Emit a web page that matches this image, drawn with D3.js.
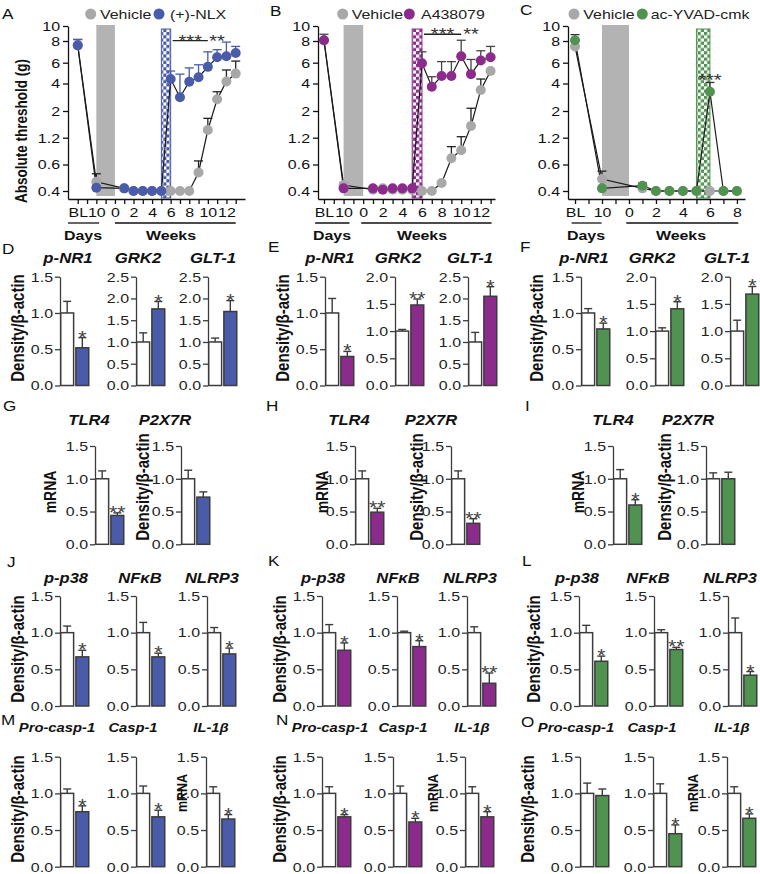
<!DOCTYPE html>
<html><head><meta charset="utf-8">
<script src="https://cdn.jsdelivr.net/npm/d3@7"></script>
<style>
body{margin:0;background:#fff}
svg text{font-family:"Liberation Sans",Arial,Helvetica,sans-serif}
</style></head><body>
<svg id="fig" width="760" height="874"></svg>
<script>
// ================= DATA =================
// Line charts (A, B, C): time points
const timesAB = ["BL","D10","W1","W2","W3","W4","W5","W6","W7","W8","W9","W10","W11","W12","W13"];
const timesC  = ["BL","D10","W1","W2","W3","W4","W5","W6","W7","W8"];
const yTicksLine = [0.4,0.6,1.2,2,4,6,8,10];
const xTickLabelsAB = ["BL","","10","","0","","2","","4","","6","","8","","10","","12",""];
const xTickLabelsC  = ["BL","","10","","0","","2","","4","","6","","8"];

const A_vehicle   = [7.6,0.47,0.42,0.40,0.40,0.40,0.40,0.40,0.40,0.40,0.54,1.43,2.85,4.20,4.95];
const A_vehicleUp = [8.2,0.53,0.42,0.40,0.40,0.40,0.40,0.40,0.40,0.40,0.68,1.78,3.40,5.30,6.15];
const A_drug      = [7.6,0.425,0.42,0.40,0.40,0.40,0.40,4.43,3.00,4.17,4.60,5.60,6.50,6.60,6.90];
const A_drugUp    = [8.2,0.425,0.42,0.40,0.40,0.40,0.40,5.20,4.90,5.50,5.80,7.00,7.20,7.90,7.50];

const B_vehicle   = [8.1,0.445,0.41,0.42,0.41,0.41,0.41,0.40,0.40,0.46,0.74,0.92,1.55,3.53,5.20];
const B_vehicleUp = [8.1,0.46,0.41,0.42,0.41,0.41,0.41,0.40,0.40,0.47,1.00,1.23,2.20,4.43,5.20];
const B_drug      = [8.1,0.42,0.42,0.41,0.42,0.42,0.42,5.95,3.77,4.72,4.72,6.60,4.90,6.20,6.50];
const B_drugUp    = [8.9,0.42,0.42,0.41,0.42,0.42,0.42,7.00,4.65,6.10,6.10,8.10,6.30,7.10,7.50];

const C_vehicle   = [7.5,0.49,0.42,0.40,0.40,0.40,0.40,0.40,0.40,0.40];
const C_vehicleUp = [7.5,0.55,0.42,0.40,0.40,0.40,0.40,0.40,0.40,0.40];
const C_drug      = [8.1,0.42,0.44,0.40,0.40,0.40,0.40,3.40,0.40,0.40];
const C_drugUp    = [8.85,0.42,0.46,0.40,0.40,0.40,0.40,4.10,0.40,0.40];

const legendNames = ["Vehicle","(+)-NLX","A438079","ac-YVAD-cmk"];

// Bar charts
const genesDEF = ["p-NR1","GRK2","GLT-1"];
const genesGHI = ["TLR4","P2X7R"];
const genesJKL = ["p-p38","NFκB","NLRP3"];
const genesMNO = ["Pro-casp-1","Casp-1","IL-1β"];

const D_ymax=[1.5,2.5,2.5], D_vehUp=[1.16,1.21,1.09], D_drug=[0.52,1.76,1.70], D_drugUp=[0.66,1.93,1.95], D_sig=["*","*","*"];
const E_ymax=[1.5,2.0,2.5], E_vehUp=[1.20,1.03,1.22], E_drug=[0.40,1.48,2.05], E_drugUp=[0.47,1.59,2.27], E_sig=["*","**","*"];
const F_ymax=[1.5,2.0,2.0], F_vehUp=[1.06,1.06,1.20], F_drug=[0.78,1.41,1.68], F_drugUp=[0.86,1.54,1.82], F_sig=["*","*","*"];

const G_vehUp=[1.12,1.13], G_drug=[0.44,0.72], G_drugUp=[0.48,0.80], G_sig=["**",""];
const H_vehUp=[1.12,1.12], H_drug=[0.49,0.32], H_drugUp=[0.55,0.39], H_sig=["**","**"];
const I_vehUp=[1.14,1.09], I_drug=[0.60,1.00], I_drugUp=[0.68,1.10], I_sig=["*",""];

const J_vehUp=[1.09,1.14,1.07], J_drug=[0.67,0.67,0.71], J_drugUp=[0.76,0.72,0.79], J_sig=["*","*","*"];
const K_vehUp=[1.11,1.02,1.08], K_drug=[0.76,0.81,0.31], K_drugUp=[0.86,0.89,0.45], K_sig=["*","*","**"];
const L_vehUp=[1.10,1.04,1.20], L_drug=[0.61,0.77,0.42], L_drugUp=[0.68,0.80,0.47], L_sig=["*","**","*"];

const M_vehUp=[1.06,1.10,1.09], M_drug=[0.75,0.68,0.65], M_drugUp=[0.83,0.77,0.71], M_sig=["*","*","*"];
const N_vehUp=[1.09,1.10,1.09], N_drug=[0.68,0.61,0.68], N_drugUp=[0.71,0.66,0.75], N_sig=["*","*","*"];
const O_vehUp=[1.14,1.13,1.09], O_drug=[0.97,0.45,0.66], O_drugUp=[1.06,0.57,0.72], O_sig=["","*","*"];

// ================= STYLE / LAYOUT =================
const BLUE="#4a5ba9", PURPLE="#8b2c8c", GREEN="#509250", GRAYDOT="#a8a8a8", GRAYBAR="#b3b3b3";
const AXC="#3c3c3c", FF='"Liberation Sans",Arial,Helvetica,sans-serif';
const SX=1.18; // horizontal stretch of the reference typography
const svg = d3.select("#fig");
const defs = svg.append("defs");
[["chkB",BLUE],["chkP",PURPLE],["chkG",GREEN]].forEach(([id,c])=>{
  const p=defs.append("pattern").attr("id",id).attr("patternUnits","userSpaceOnUse").attr("width",6.4).attr("height",6.4);
  p.append("rect").attr("width",6.4).attr("height",6.4).attr("fill","#fff");
  p.append("rect").attr("width",3.2).attr("height",3.2).attr("fill",c);
  p.append("rect").attr("x",3.2).attr("y",3.2).attr("width",3.2).attr("height",3.2).attr("fill",c);
});

function txt(x,y,s,o={}){
  const t=svg.append("text").attr("class","hs").attr("x",x).attr("y",y).text(s)
    .attr("font-size",o.size||13).attr("fill",o.fill||"#111")
    .attr("text-anchor",o.anchor||"start");
  if(o.bold) t.attr("font-weight","bold");
  if(o.italic) t.attr("font-style","italic");
  return t;
}
function vtxt(x,y,s,size){
  svg.append("text").attr("transform",`translate(${x},${y}) scale(${SX},1) rotate(-90)`)
    .attr("text-anchor","middle").attr("dy","0.35em").attr("font-weight","bold")
    .attr("font-size",size).attr("fill","#111").text(s);
}

// ---------- line panels ----------
const yL = d3.scaleLinear().domain([0.34,0.4,0.6,1.2,2,4,6,8,10]).range([199,191,164.5,137.7,111,83.5,62.7,41,26]);
const tIndex = t => t==="BL"?0 : t==="D10"?2 : (+t.slice(1))+4;

function linePanel(o){
  const g=svg.append("g");
  const x=d3.scaleLinear().domain(o.xDomain).range(o.xRange);
  const x0=o.xRange[0];
  g.append("rect").attr("x",x(2)).attr("width",x(4)-x(2)).attr("y",yL(10)-1).attr("height",196-yL(10)+1).attr("fill",GRAYBAR);
  g.append("rect").attr("x",x(9)).attr("width",x(10)-x(9)).attr("y",yL(10)+3).attr("height",198-yL(10)-3)
    .attr("fill",`url(#${o.chk})`).attr("stroke",o.color).attr("stroke-width",1);
  const ya=g.append("g").attr("transform",`translate(${x0},0)`)
    .call(d3.axisLeft(yL).tickValues(yTicksLine).tickFormat(d=>String(d)).tickSize(5).tickSizeOuter(0).tickPadding(3));
  const xa=g.append("g").attr("transform",`translate(0,199)`)
    .call(d3.axisBottom(x).tickValues(d3.range(o.tickLabels.length)).tickFormat(i=>o.tickLabels[i]).tickSize(5).tickSizeOuter(0).tickPadding(3));
  [ya,xa].forEach(a=>{
    a.select(".domain").attr("stroke","#111").attr("stroke-width",1.3);
    a.selectAll(".tick line").attr("stroke","#111").attr("stroke-width",1.3);
    a.selectAll(".tick text").attr("class","hs").attr("font-size",13.5).attr("fill","#111").attr("font-family",FF);
  });
  const veh=o.times.map((t,i)=>({t,v:o.veh[i],e:o.vehUp[i]}));
  const drg=o.times.map((t,i)=>({t,v:o.drug[i],e:o.drugUp[i]}));
  const line=d3.line().x(d=>x(tIndex(d.t))).y(d=>yL(d.v));
  [veh,drg].forEach(s=>g.append("path").datum(s).attr("d",line).attr("fill","none").attr("stroke","#1a1a1a").attr("stroke-width",1.2));
  function errs(s,col){
    s.filter(d=>d.e>d.v+0.001).forEach(d=>{
      const cx=x(tIndex(d.t));
      g.append("line").attr("x1",cx).attr("x2",cx).attr("y1",yL(d.v)).attr("y2",yL(d.e)).attr("stroke",col).attr("stroke-width",1.3);
      g.append("line").attr("x1",cx-4.5).attr("x2",cx+4.5).attr("y1",yL(d.e)).attr("y2",yL(d.e)).attr("stroke",col).attr("stroke-width",1.3);
    });
  }
  errs(veh,"#222");
  g.selectAll(null).data(veh).join("circle").attr("cx",d=>x(tIndex(d.t))).attr("cy",d=>yL(d.v)).attr("r",5).attr("fill",GRAYDOT);
  errs(drg,o.errColor);
  g.selectAll(null).data(drg).join("circle").attr("cx",d=>x(tIndex(d.t))).attr("cy",d=>yL(d.v)).attr("r",5).attr("fill",o.color);
  if(o.sigLine){
    const [a,b,v]=o.sigLine;
    g.append("line").attr("x1",x(tIndex(a))+2).attr("x2",x(tIndex(b))).attr("y1",yL(v)).attr("y2",yL(v)).attr("stroke","#222").attr("stroke-width",1.4);
    txt((x(tIndex(a))+x(tIndex(b)))/2+1,yL(v)+6,"***",{size:17,anchor:"middle",fill:"#333"});
  }
  o.sigTexts.forEach(([t,v,s])=>txt(x(tIndex(t)),yL(v)+6,s,{size:17,anchor:"middle",fill:"#333"}));
  g.append("line").attr("x1",x(o.days[0])).attr("x2",x(o.days[1])).attr("y1",223).attr("y2",223).attr("stroke","#111").attr("stroke-width",1.3);
  g.append("line").attr("x1",x(o.weeks[0])).attr("x2",x(o.weeks[1])).attr("y1",223).attr("y2",223).attr("stroke","#111").attr("stroke-width",1.3);
  txt(o.daysX,240,"Days",{bold:true,anchor:"middle",size:13.5});
  txt(o.weeksX,240,"Weeks",{bold:true,anchor:"middle",size:13.5});
  g.append("circle").attr("cx",o.leg[0]).attr("cy",14).attr("r",5.5).attr("fill",GRAYDOT);
  txt(o.leg[1],19,legendNames[0],{size:13.5,fill:"#222"});
  g.append("circle").attr("cx",o.leg[2]).attr("cy",14).attr("r",5.5).attr("fill",o.color);
  txt(o.leg[3],19,o.name,{size:13.5,fill:"#222"});
  txt(o.letter[0],o.letter[1],o.letter[2],{size:14.5});
}

linePanel({xDomain:[-1.05,18],xRange:[68,245],times:timesAB,veh:A_vehicle,vehUp:A_vehicleUp,drug:A_drug,drugUp:A_drugUp,
  color:BLUE,errColor:BLUE,chk:"chkB",tickLabels:xTickLabelsAB,sigLine:["W6","W10",8.05],sigTexts:[["W11",8.05,"**"]],
  days:[-1.05,2.3],weeks:[4,17],daysX:83,weeksX:171,leg:[90.7,100,159,170],name:legendNames[1],letter:[2,19,"A"]});
linePanel({xDomain:[-0.61,17.45],xRange:[318,495],times:timesAB,veh:B_vehicle,vehUp:B_vehicleUp,drug:B_drug,drugUp:B_drugUp,
  color:PURPLE,errColor:"#444",chk:"chkP",tickLabels:xTickLabelsAB,sigLine:["W6","W10",8.9],sigTexts:[["W11",8.9,"**"]],
  days:[-0.9,2.6],weeks:[3.8,17.1],daysX:332,weeksX:422,leg:[342.7,351.7,409.3,421],name:legendNames[2],letter:[270,16,"B"]});
linePanel({xDomain:[-0.52,12.6],xRange:[568,745],times:timesC,veh:C_vehicle,vehUp:C_vehicleUp,drug:C_drug,drugUp:C_drugUp,
  color:GREEN,errColor:"#333",chk:"chkG",tickLabels:xTickLabelsC,sigLine:null,sigTexts:[["W6",4.35,"***"]],
  days:[-0.25,1.97],weeks:[3.8,12.1],daysX:586,weeksX:681,leg:[574,583.3,642.3,650.7],name:legendNames[3],letter:[520,15,"C"]});

vtxt(21.5,131,"Absolute threshold (g)",13.5);

// ---------- bar panels ----------
function barPanel(o){
  const g=svg.append("g");
  const y=d3.scaleLinear().domain([0,o.ymax]).range([o.zeroY,o.topY]);
  const x=d3.scaleBand().domain(["Vehicle","Drug"]).range([o.ax,o.ax+29.5]).paddingInner(0.05);
  const a=g.append("g").attr("transform",`translate(${o.ax},0)`)
    .call(d3.axisLeft(y).tickValues(d3.range(0,o.ymax+1e-6,0.5)).tickFormat(d3.format(".1f")).tickSize(5).tickSizeOuter(0).tickPadding(2));
  a.select(".domain").attr("stroke",AXC).attr("stroke-width",1.3);
  a.selectAll(".tick line").attr("stroke",AXC).attr("stroke-width",1.3);
  a.selectAll(".tick text").attr("class","hs").attr("font-size",13.5).attr("fill","#222").attr("font-family",FF);
  const data=[{k:"Vehicle",v:1.0,e:o.vehUp,f:"#fff"},{k:"Drug",v:o.drug,e:o.drugUp,f:o.color}];
  data.forEach(d=>{
    const cx=x(d.k)+x.bandwidth()/2;
    g.append("line").attr("x1",cx).attr("x2",cx).attr("y1",y(d.v)).attr("y2",y(d.e)).attr("stroke",AXC).attr("stroke-width",1.4);
    g.append("line").attr("x1",cx-4).attr("x2",cx+4).attr("y1",y(d.e)).attr("y2",y(d.e)).attr("stroke",AXC).attr("stroke-width",1.4);
  });
  g.selectAll(null).data(data).join("rect")
    .attr("x",d=>x(d.k)+0.75).attr("width",x.bandwidth()-1.5)
    .attr("y",d=>y(d.v)).attr("height",d=>o.zeroY-y(d.v))
    .attr("fill",d=>d.f).attr("stroke",AXC).attr("stroke-width",1.5);
  if(o.sig){
    const cx=x("Drug")+x.bandwidth()/2;
    txt(cx,y(o.drugUp)+6,o.sig,{size:18,anchor:"middle",fill:"#444"});
  }
  txt(o.titleX,o.titleY+5,o.title,{size:o.tsize,bold:true,italic:true,anchor:"middle"});
}

function row(genes,ymaxs,vehUp,drug,drugUp,sig,color,axes,titleXs,zeroY,topY,titleY,tsize){
  genes.forEach((gname,i)=>barPanel({ax:axes[i],zeroY,topY,ymax:ymaxs[i],title:gname,titleX:titleXs[i],titleY,tsize,
    vehUp:vehUp[i],drug:drug[i],drugUp:drugUp[i],sig:sig[i],color}));
}
const one5=[1.5,1.5,1.5];
row(genesDEF,D_ymax,D_vehUp,D_drug,D_drugUp,D_sig,BLUE,[60,136,208],[68,138,213],385.5,276.7,258,14.2);
row(genesDEF,E_ymax,E_vehUp,E_drug,E_drugUp,E_sig,PURPLE,[325,395,468],[330,398,470],385.5,276.7,258,14.2);
row(genesDEF,F_ymax,F_vehUp,F_drug,F_drugUp,F_sig,GREEN,[581,655,730],[584,652,727],385.5,276.7,258,14.2);
row(genesGHI,one5,G_vehUp,G_drug,G_drugUp,G_sig,BLUE,[95,181],[89,165],544.3,446,420,14);
row(genesGHI,one5,H_vehUp,H_drug,H_drugUp,H_sig,PURPLE,[355,451],[349,431],544.3,446,420,14);
row(genesGHI,one5,I_vehUp,I_drug,I_drugUp,I_sig,GREEN,[613,706],[613,688],544.3,446,420,14);
row(genesJKL,one5,J_vehUp,J_drug,J_drugUp,J_sig,BLUE,[60,136,207],[66,140,212],706,596,578,14);
row(genesJKL,one5,K_vehUp,K_drug,K_drugUp,K_sig,PURPLE,[322,397,467],[323,398,470],706,596,578,14);
row(genesJKL,one5,L_vehUp,L_drug,L_drugUp,L_sig,GREEN,[579,654,728],[577,648,730],706,596,578,14);
row(genesMNO,one5,M_vehUp,M_drug,M_drugUp,M_sig,BLUE,[60,136,206],[57,133,211],866.7,756.7,727,12.5);
row(genesMNO,one5,N_vehUp,N_drug,N_drugUp,N_sig,PURPLE,[322,393,465],[330,403,472],866.7,756.7,727,12.5);
row(genesMNO,one5,O_vehUp,O_drug,O_drugUp,O_sig,GREEN,[580,653,727],[576,652,732],866.7,756.7,727,12.5);

const DEN="Density/β-actin";
[18,283,537].forEach(x=>vtxt(x,328,DEN,15));
vtxt(50,492,"mRNA",14); vtxt(143,487,DEN,15);
vtxt(322,492,"mRNA",14); vtxt(417,487,DEN,15);
vtxt(578,492,"mRNA",14); vtxt(665,487,DEN,15);
[18,280,534].forEach(x=>vtxt(x,649,DEN,15));
[18,280,528].forEach(x=>vtxt(x,809,DEN,15));
[182,433,693].forEach(x=>vtxt(x,793,"mRNA",12.5));

[["D",2,253.5],["E",268,252],["F",520,251.5],["G",3,411],["H",266,411],["I",525,411],
 ["J",7,567],["K",268,565.5],["L",522,565.5],["M",1,725],["N",276,725],["O",521,727]]
 .forEach(([s,x,y])=>txt(x,y,s,{size:14.5}));

// horizontal stretch of every horizontal label, as in the reference
svg.selectAll("text.hs").each(function(){
  const L=this.getComputedTextLength();
  if(L>0){ this.setAttribute("textLength",L*SX); this.setAttribute("lengthAdjust","spacingAndGlyphs"); }
});
</script>
</body></html>
